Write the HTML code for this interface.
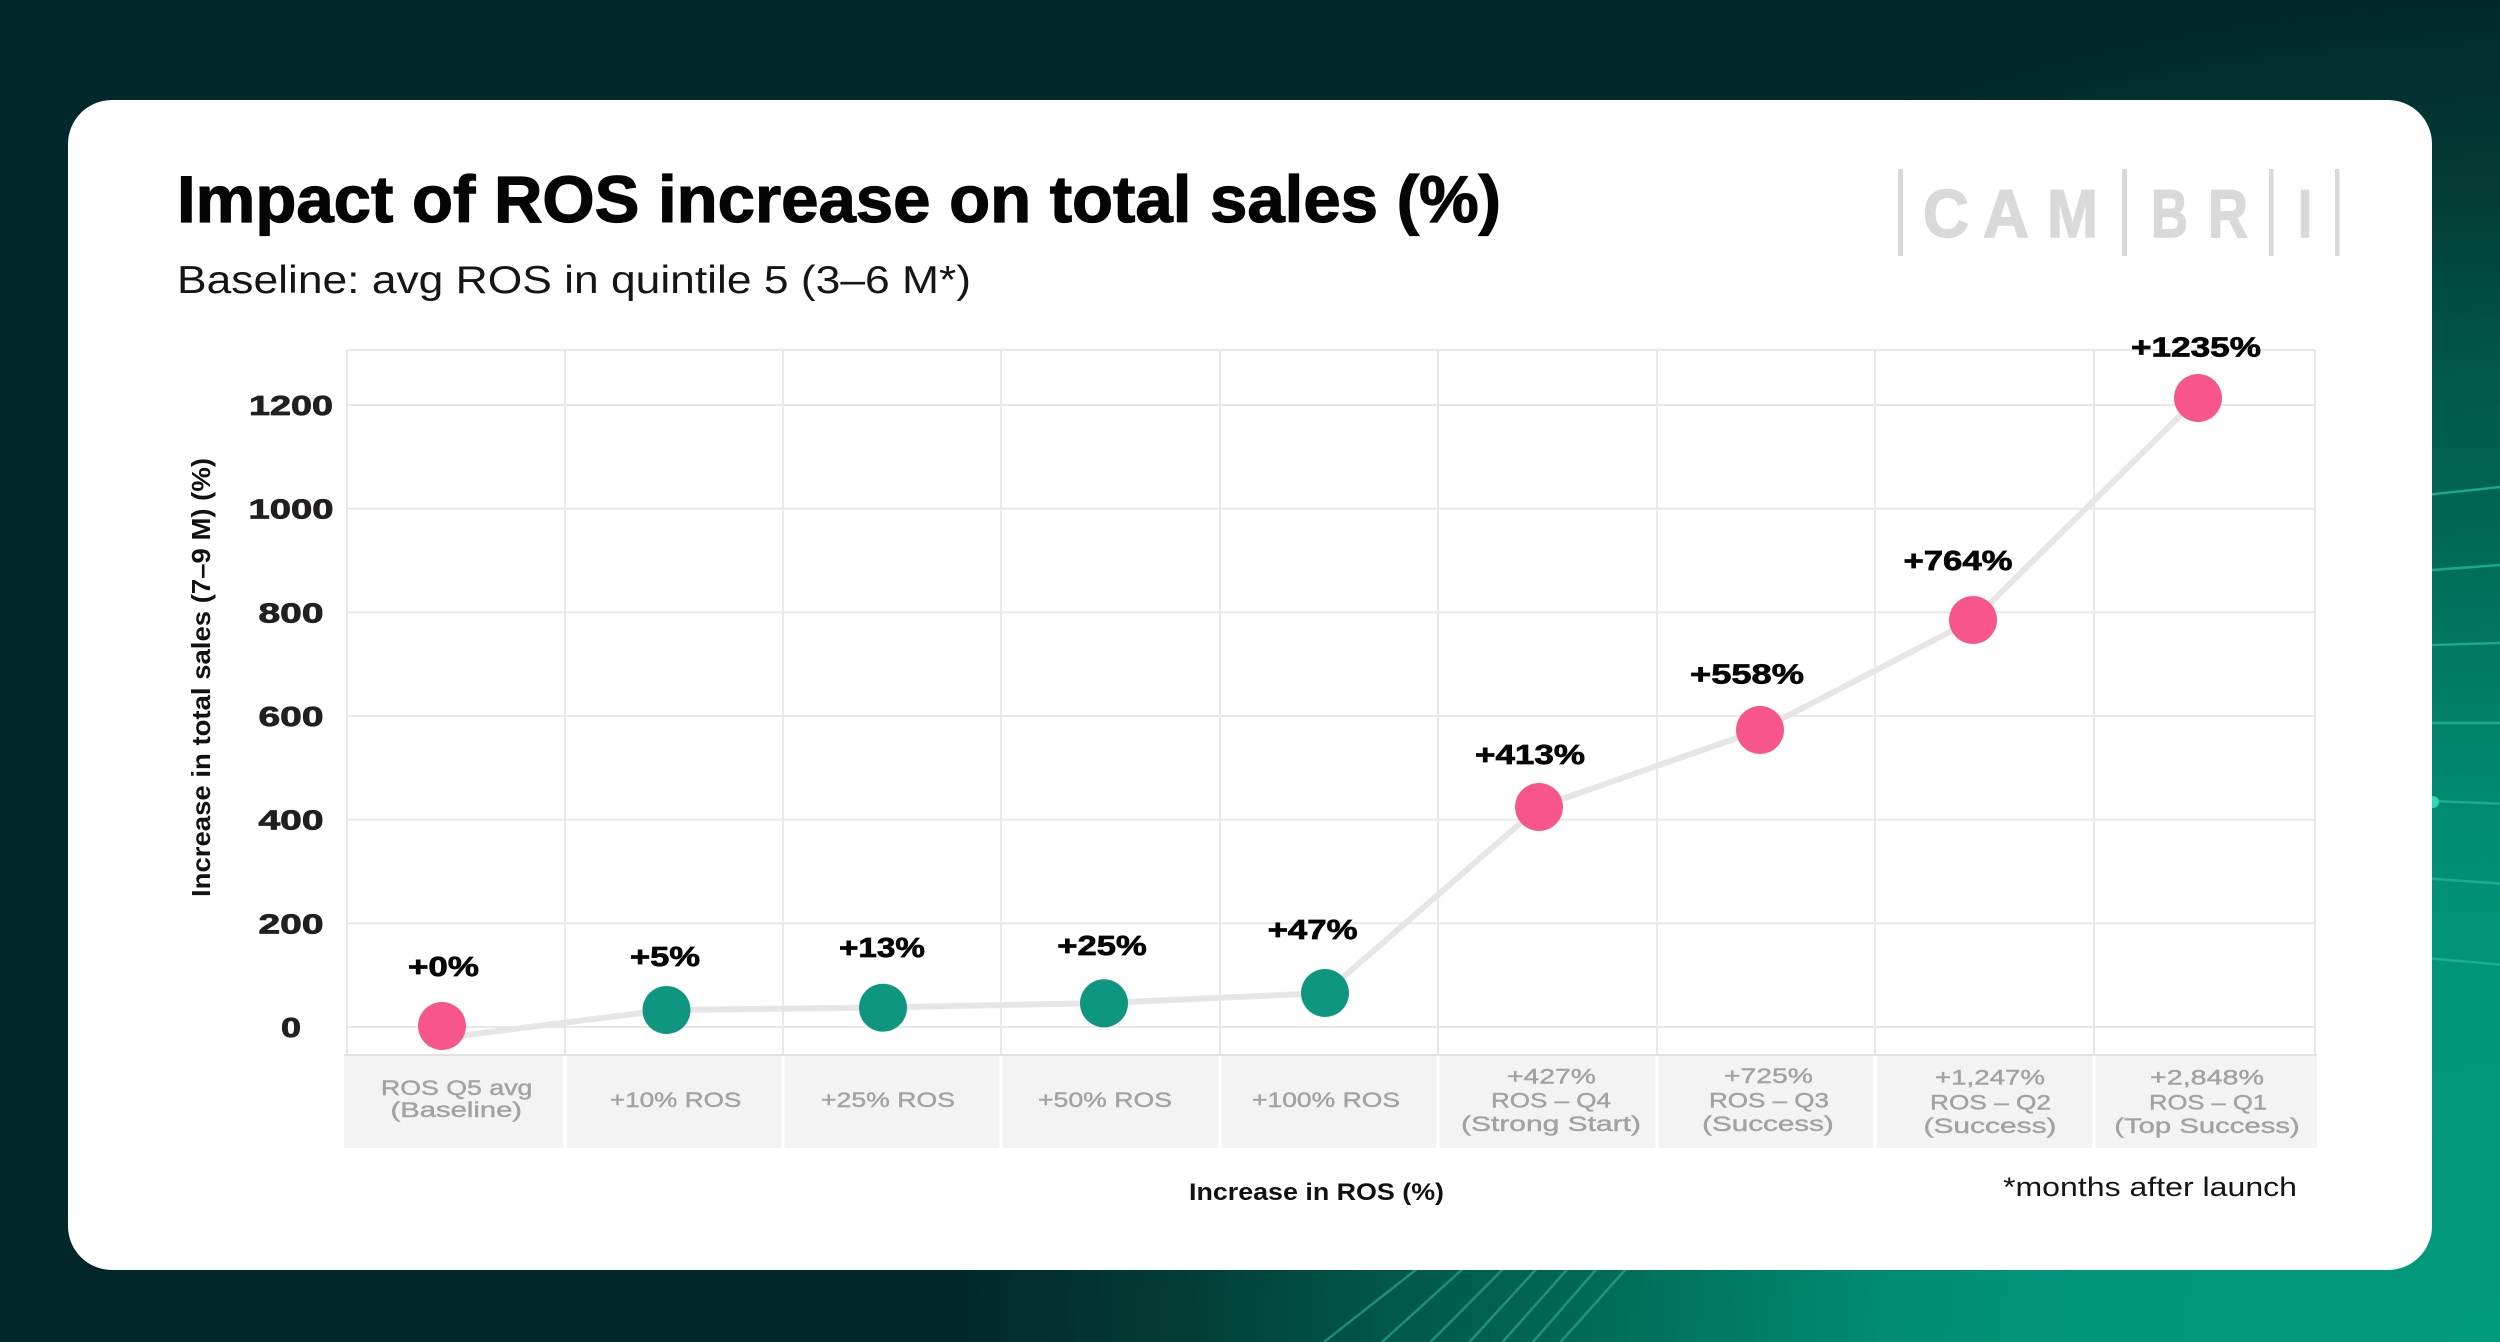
<!DOCTYPE html>
<html>
<head>
<meta charset="utf-8">
<style>
html,body{margin:0;padding:0;}
body{width:2500px;height:1342px;overflow:hidden;
background:radial-gradient(ellipse 1550px 1350px at 100% 100%, #009a7c 0%, #00957a 30%, #008b73 40%, #007a64 50%, #006552 62%, #00574a 72%, #023d35 85%, #02282a 100%);}
svg{display:block;}
text{font-family:"Liberation Sans",sans-serif;}
</style>
</head>
<body>
<svg width="2500" height="1342" viewBox="0 0 2500 1342" xmlns="http://www.w3.org/2000/svg">
  <!-- background decorative lines right -->
  <g stroke="#1fb496" stroke-width="2.5" fill="none" opacity="0.85">
    <line x1="2400" y1="497.8" x2="2500" y2="487"/>
    <line x1="2400" y1="572.4" x2="2500" y2="565"/>
    <line x1="2400" y1="646" x2="2500" y2="643"/>
    <line x1="2400" y1="723" x2="2500" y2="723"/>
    <line x1="2400" y1="799.7" x2="2500" y2="803.6"/>
    <line x1="2400" y1="876.4" x2="2500" y2="883.5"/>
    <line x1="2400" y1="955.7" x2="2500" y2="964.6"/>
  </g>
  <circle cx="2433" cy="802" r="6" fill="#27dcb4"/>
  <!-- bottom diagonal lines -->
  <g stroke="#35b296" stroke-width="2.5" opacity="0.6">
    <line x1="1422" y1="1265" x2="1324" y2="1342"/>
    <line x1="1467" y1="1265" x2="1382" y2="1342"/>
    <line x1="1507" y1="1265" x2="1430.5" y2="1342"/>
    <line x1="1540" y1="1265" x2="1469.5" y2="1342"/>
    <line x1="1571" y1="1265" x2="1502.6" y2="1342"/>
    <line x1="1600" y1="1265" x2="1533" y2="1342"/>
    <line x1="1629.5" y1="1265" x2="1560.7" y2="1342"/>
  </g>

  <!-- card -->
  <rect x="68" y="100" width="2364" height="1170" rx="44" ry="44" fill="#ffffff"/>

  <!-- title -->
  <text x="177" y="222" font-size="66" font-weight="700" fill="#050505" stroke="#050505" stroke-width="1.2" textLength="1324" lengthAdjust="spacingAndGlyphs">Impact of ROS increase on total sales (%)</text>
  <text x="177" y="293" font-size="39" fill="#151515" textLength="794" lengthAdjust="spacingAndGlyphs">Baseline: avg ROS in quintile 5 (3–6 M*)</text>

  <!-- logo -->
  <g fill="#d9d9d9">
    <rect x="1898" y="169" width="5" height="87"/>
    <rect x="2122" y="169" width="5" height="87"/>
    <rect x="2269" y="169" width="4.5" height="87"/>
    <rect x="2335" y="169" width="4.5" height="87"/>
  </g>
  <g fill="#d9d9d9" stroke="#d9d9d9" stroke-width="1.5" font-size="68" font-weight="700">
    <text x="1923" y="237" textLength="46" lengthAdjust="spacingAndGlyphs">C</text>
    <text x="1983" y="237" textLength="46" lengthAdjust="spacingAndGlyphs">A</text>
    <text x="2047" y="237" textLength="51" lengthAdjust="spacingAndGlyphs">M</text>
    <text x="2151" y="237" textLength="37" lengthAdjust="spacingAndGlyphs">B</text>
    <text x="2208" y="237" textLength="40" lengthAdjust="spacingAndGlyphs">R</text>
    <text x="2298" y="237" textLength="14" lengthAdjust="spacingAndGlyphs">I</text>
  </g>

  <!-- category strip -->
  <rect x="344" y="1056" width="1973" height="92" fill="#f3f3f3"/>
  <g fill="#ffffff">
    <rect x="563.5" y="1056" width="3" height="92"/>
    <rect x="781.5" y="1056" width="3" height="92"/>
    <rect x="999.5" y="1056" width="3" height="92"/>
    <rect x="1218.5" y="1056" width="3" height="92"/>
    <rect x="1436.5" y="1056" width="3" height="92"/>
    <rect x="1655.5" y="1056" width="3" height="92"/>
    <rect x="1873.5" y="1056" width="3" height="92"/>
    <rect x="2092.5" y="1056" width="3" height="92"/>
  </g>

  <!-- grid -->
  <g stroke="#e8e8e8" stroke-width="2" fill="none">
    <line x1="347" y1="350" x2="2315" y2="350"/>
    <line x1="347" y1="405" x2="2315" y2="405"/>
    <line x1="347" y1="508.7" x2="2315" y2="508.7"/>
    <line x1="347" y1="612.3" x2="2315" y2="612.3"/>
    <line x1="347" y1="716" x2="2315" y2="716"/>
    <line x1="347" y1="819.7" x2="2315" y2="819.7"/>
    <line x1="347" y1="923.3" x2="2315" y2="923.3"/>
    <line x1="347" y1="1027" x2="2315" y2="1027"/>
    <line x1="347" y1="350" x2="347" y2="1055"/>
    <line x1="565" y1="350" x2="565" y2="1055"/>
    <line x1="783" y1="350" x2="783" y2="1055"/>
    <line x1="1001" y1="350" x2="1001" y2="1055"/>
    <line x1="1220" y1="350" x2="1220" y2="1055"/>
    <line x1="1438" y1="350" x2="1438" y2="1055"/>
    <line x1="1657" y1="350" x2="1657" y2="1055"/>
    <line x1="1875" y1="350" x2="1875" y2="1055"/>
    <line x1="2094" y1="350" x2="2094" y2="1055"/>
    <line x1="2315" y1="350" x2="2315" y2="1055"/>
  </g>
  <line x1="344" y1="1055" x2="2317" y2="1055" stroke="#e2e2e2" stroke-width="2"/>

  <!-- y tick labels -->
  <g font-size="28" font-weight="700" fill="#231f20" stroke="#231f20" stroke-width="0.8" text-anchor="middle">
    <text x="291" y="415" textLength="84" lengthAdjust="spacingAndGlyphs">1200</text>
    <text x="291" y="518.7" textLength="85" lengthAdjust="spacingAndGlyphs">1000</text>
    <text x="291" y="622.3" textLength="65" lengthAdjust="spacingAndGlyphs">800</text>
    <text x="291" y="726" textLength="65" lengthAdjust="spacingAndGlyphs">600</text>
    <text x="291" y="829.7" textLength="65" lengthAdjust="spacingAndGlyphs">400</text>
    <text x="291" y="933.3" textLength="65" lengthAdjust="spacingAndGlyphs">200</text>
    <text x="291" y="1037" textLength="20" lengthAdjust="spacingAndGlyphs">0</text>
  </g>

  <!-- y axis title -->
  <text transform="translate(210,677.5) rotate(-90)" x="0" y="0" text-anchor="middle" font-size="26" font-weight="700" fill="#111" textLength="439" lengthAdjust="spacingAndGlyphs">Increase in total sales (7–9 M) (%)</text>

  <!-- connecting line -->
  <polyline points="442,1038 666,1010 883,1007.5 1104,1003 1325,993 1539,807 1760,730 1973,620 2198,398" fill="none" stroke="#e6e6e6" stroke-width="6" stroke-linejoin="round" stroke-linecap="round"/>

  <!-- points -->
  <circle cx="442" cy="1026" r="24" fill="#f8558c"/>
  <circle cx="666.5" cy="1010" r="24" fill="#0e9680"/>
  <circle cx="883" cy="1007.7" r="24" fill="#0e9680"/>
  <circle cx="1104" cy="1003.3" r="24" fill="#0e9680"/>
  <circle cx="1325" cy="993" r="24" fill="#0e9680"/>
  <circle cx="1539" cy="807" r="24" fill="#f8558c"/>
  <circle cx="1760" cy="730" r="24" fill="#f8558c"/>
  <circle cx="1973" cy="620" r="24" fill="#f8558c"/>
  <circle cx="2198" cy="398" r="24" fill="#f8558c"/>

  <!-- point labels -->
  <g font-size="28" font-weight="700" fill="#050505" stroke="#050505" stroke-width="0.7" text-anchor="middle">
    <text x="443.5" y="976" textLength="71" lengthAdjust="spacingAndGlyphs">+0%</text>
    <text x="665" y="966" textLength="70" lengthAdjust="spacingAndGlyphs">+5%</text>
    <text x="882" y="957" textLength="86" lengthAdjust="spacingAndGlyphs">+13%</text>
    <text x="1102" y="955" textLength="89.5" lengthAdjust="spacingAndGlyphs">+25%</text>
    <text x="1312.6" y="939" textLength="90" lengthAdjust="spacingAndGlyphs">+47%</text>
    <text x="1530" y="764" textLength="110" lengthAdjust="spacingAndGlyphs">+413%</text>
    <text x="1747" y="683.5" textLength="114" lengthAdjust="spacingAndGlyphs">+558%</text>
    <text x="1958" y="570" textLength="109" lengthAdjust="spacingAndGlyphs">+764%</text>
    <text x="2196" y="356.6" textLength="130" lengthAdjust="spacingAndGlyphs">+1235%</text>
  </g>

  <!-- category labels -->
  <g font-size="21" fill="#a2a2a2" stroke="#a2a2a2" stroke-width="0.4" text-anchor="middle">
    <text x="456.7" y="1095" textLength="151.5" lengthAdjust="spacingAndGlyphs">ROS Q5 avg</text>
    <text x="456.3" y="1117" textLength="131.5" lengthAdjust="spacingAndGlyphs">(Baseline)</text>
    <text x="675.6" y="1107" textLength="131.5" lengthAdjust="spacingAndGlyphs">+10% ROS</text>
    <text x="888" y="1107" textLength="134" lengthAdjust="spacingAndGlyphs">+25% ROS</text>
    <text x="1105" y="1107" textLength="134" lengthAdjust="spacingAndGlyphs">+50% ROS</text>
    <text x="1326" y="1107" textLength="148" lengthAdjust="spacingAndGlyphs">+100% ROS</text>

    <text x="1551.5" y="1083.5" textLength="89" lengthAdjust="spacingAndGlyphs">+427%</text>
    <text x="1551" y="1107.5" textLength="120" lengthAdjust="spacingAndGlyphs">ROS – Q4</text>
    <text x="1551" y="1131" textLength="180" lengthAdjust="spacingAndGlyphs">(Strong Start)</text>

    <text x="1768.5" y="1083" textLength="89" lengthAdjust="spacingAndGlyphs">+725%</text>
    <text x="1769" y="1107.5" textLength="120" lengthAdjust="spacingAndGlyphs">ROS – Q3</text>
    <text x="1768" y="1131" textLength="131.6" lengthAdjust="spacingAndGlyphs">(Success)</text>

    <text x="1990" y="1084.5" textLength="110" lengthAdjust="spacingAndGlyphs">+1,247%</text>
    <text x="1990.5" y="1109.5" textLength="121" lengthAdjust="spacingAndGlyphs">ROS – Q2</text>
    <text x="1990" y="1133" textLength="133" lengthAdjust="spacingAndGlyphs">(Success)</text>

    <text x="2207" y="1084.5" textLength="114" lengthAdjust="spacingAndGlyphs">+2,848%</text>
    <text x="2208" y="1109.5" textLength="118" lengthAdjust="spacingAndGlyphs">ROS – Q1</text>
    <text x="2207" y="1133" textLength="185.5" lengthAdjust="spacingAndGlyphs">(Top Success)</text>
  </g>

  <!-- x axis title and footnote -->
  <text x="1316.5" y="1200" text-anchor="middle" font-size="24" font-weight="700" fill="#111" textLength="255" lengthAdjust="spacingAndGlyphs">Increase in ROS (%)</text>
  <text x="2003" y="1196" font-size="27" fill="#151515" textLength="294" lengthAdjust="spacingAndGlyphs">*months after launch</text>
</svg>
</body>
</html>
